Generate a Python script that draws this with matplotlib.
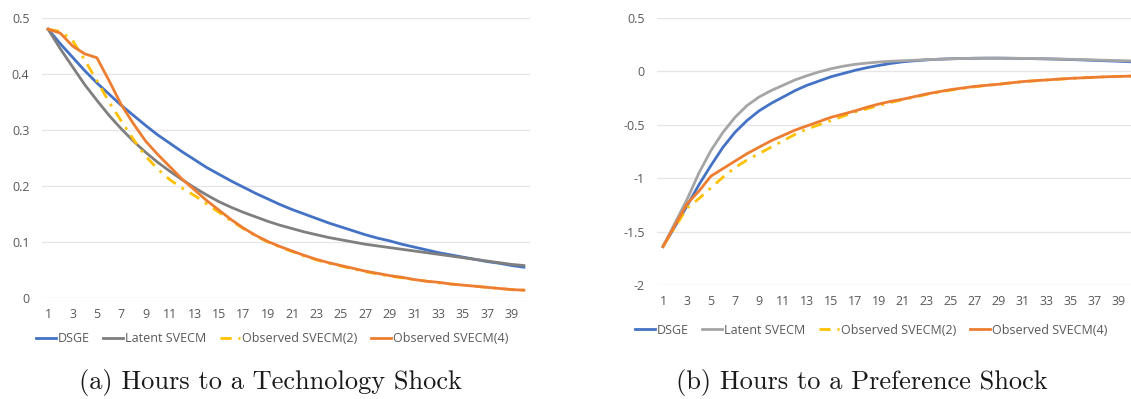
import matplotlib
matplotlib.use("Agg")
import matplotlib.pyplot as plt
from matplotlib.ticker import FuncFormatter, FixedLocator

periods = list(range(1, 41))
series_names = ["DSGE", "Latent SVECM", "Observed SVECM(2)", "Observed SVECM(4)"]

# (a) Hours to a Technology Shock
tech_dsge = [0.480, 0.454, 0.430, 0.406, 0.384, 0.364, 0.344, 0.326, 0.308, 0.291,
             0.276, 0.261, 0.247, 0.233, 0.221, 0.209, 0.198, 0.187, 0.177, 0.167,
             0.158, 0.150, 0.142, 0.134, 0.127, 0.120, 0.113, 0.107, 0.102, 0.096,
             0.091, 0.086, 0.081, 0.077, 0.073, 0.069, 0.065, 0.062, 0.058, 0.055]
tech_latent = [0.480, 0.445, 0.413, 0.381, 0.353, 0.326, 0.302, 0.280, 0.260, 0.242,
               0.226, 0.211, 0.197, 0.184, 0.172, 0.162, 0.153, 0.145, 0.137, 0.130,
               0.124, 0.118, 0.113, 0.108, 0.104, 0.100, 0.096, 0.093, 0.090, 0.087,
               0.084, 0.081, 0.078, 0.075, 0.072, 0.069, 0.066, 0.063, 0.060, 0.058]
tech_obs2 = [0.480, 0.476, 0.460, 0.425, 0.388, 0.350, 0.316, 0.283, 0.253, 0.230,
             0.211, 0.196, 0.183, 0.168, 0.153, 0.138, 0.124, 0.111, 0.100, 0.091,
             0.083, 0.075, 0.068, 0.062, 0.057, 0.052, 0.047, 0.043, 0.039, 0.036,
             0.033, 0.030, 0.027, 0.025, 0.023, 0.021, 0.019, 0.017, 0.015, 0.014]
tech_obs4 = [0.480, 0.473, 0.450, 0.436, 0.429, 0.388, 0.345, 0.311, 0.280, 0.256,
             0.234, 0.212, 0.193, 0.174, 0.157, 0.140, 0.125, 0.112, 0.101, 0.092,
             0.084, 0.076, 0.069, 0.063, 0.058, 0.053, 0.048, 0.044, 0.040, 0.037,
             0.033, 0.030, 0.028, 0.025, 0.023, 0.021, 0.019, 0.017, 0.015, 0.014]

# (b) Hours to a Preference Shock
pref_dsge = [-1.64, -1.45, -1.26, -1.06, -0.88, -0.71, -0.57, -0.46, -0.37, -0.30,
             -0.24, -0.18, -0.13, -0.09, -0.05, -0.02, 0.010, 0.035, 0.056, 0.075,
             0.090, 0.100, 0.108, 0.114, 0.118, 0.121, 0.123, 0.124, 0.124, 0.123,
             0.121, 0.119, 0.117, 0.114, 0.111, 0.107, 0.103, 0.099, 0.095, 0.090]
pref_latent = [-1.64, -1.42, -1.20, -0.95, -0.74, -0.57, -0.43, -0.32, -0.24, -0.18,
               -0.13, -0.08, -0.04, -0.005, 0.025, 0.048, 0.066, 0.078, 0.088, 0.095,
               0.100, 0.105, 0.110, 0.114, 0.118, 0.121, 0.123, 0.124, 0.124, 0.123,
               0.122, 0.120, 0.118, 0.116, 0.113, 0.110, 0.107, 0.104, 0.101, 0.098]
pref_obs2 = [-1.64, -1.46, -1.28, -1.19, -1.09, -0.99, -0.90, -0.83, -0.77, -0.71,
             -0.65, -0.59, -0.54, -0.50, -0.46, -0.42, -0.38, -0.35, -0.32, -0.29,
             -0.265, -0.24, -0.215, -0.195, -0.175, -0.16, -0.145, -0.13, -0.12, -0.107,
             -0.097, -0.088, -0.080, -0.073, -0.066, -0.060, -0.055, -0.050, -0.047, -0.044]
pref_obs4 = [-1.64, -1.44, -1.24, -1.12, -0.98, -0.91, -0.84, -0.77, -0.71, -0.65,
             -0.60, -0.55, -0.51, -0.47, -0.43, -0.40, -0.37, -0.335, -0.305, -0.28,
             -0.26, -0.235, -0.21, -0.19, -0.17, -0.155, -0.14, -0.13, -0.12, -0.107,
             -0.095, -0.087, -0.080, -0.072, -0.065, -0.060, -0.055, -0.050, -0.047, -0.044]

x_tick_labels = [str(v) for v in range(1, 40, 2)]
tech_yticks = [0, 0.1, 0.2, 0.3, 0.4, 0.5]
pref_yticks = [-2, -1.5, -1, -0.5, 0, 0.5]
captions = ["(a) Hours to a Technology Shock", "(b) Hours to a Preference Shock"]

W, H = 1131, 399
fig = plt.figure(figsize=(W / 100, H / 100), dpi=100)

tick_font = "Open Sans"
tick_color = "#595959"
label_size = 9


def px_axes(l, t, r, b):
    return fig.add_axes([l / W, 1 - b / H, (r - l) / W, (b - t) / H])


def style(ax, yticks, ylim):
    ax.set_xlim(0.5, 40.5)
    ax.set_ylim(*ylim)
    ax.xaxis.set_major_locator(FixedLocator(list(range(1, 40, 2))))
    ax.set_xticklabels(x_tick_labels)
    ax.yaxis.set_major_locator(FixedLocator(yticks))
    ax.yaxis.set_major_formatter(FuncFormatter(lambda v, p: f"{v:g}"))
    for s in ax.spines.values():
        s.set_visible(False)
    ax.tick_params(length=0, labelsize=label_size, labelcolor=tick_color)
    ax.tick_params(axis="x", pad=7)
    ax.tick_params(axis="y", pad=9)
    for lab in ax.get_xticklabels() + ax.get_yticklabels():
        lab.set_fontfamily(tick_font)
    ax.grid(axis="y", color="#E6E6E6", linewidth=1.0)
    ax.set_axisbelow(True)
    ax.patch.set_alpha(0)


def draw(ax, dsge, latent, obs2, obs4, gray):
    lw = 2.0
    ax.plot(periods, dsge, color="#4472C4", lw=lw, label=series_names[0])
    ax.plot(periods, latent, color=gray, lw=lw, label=series_names[1])
    ax.plot(periods, obs2, color="#FFC000", lw=lw, linestyle=(0, (4, 2.5, 1, 2.5)), label=series_names[2])
    ax.plot(periods, obs4, color="#ED7D31", lw=lw, label=series_names[3])


axL = px_axes(42, 18, 530, 298)
draw(axL, tech_dsge, tech_latent, tech_obs2, tech_obs4, "#7F7F7F")
style(axL, tech_yticks, (0, 0.5))

axR = px_axes(657, 18, 1137, 285)
draw(axR, pref_dsge, pref_latent, pref_obs2, pref_obs4, "#A5A5A5")
style(axR, pref_yticks, (-2, 0.5))

for ax, xc, yc in [(axL, 272, 339), (axR, 871, 330)]:
    leg = ax.legend(loc="center", bbox_to_anchor=(xc / W, 1 - yc / H),
                    bbox_transform=fig.transFigure, ncol=4, frameon=False,
                    handlelength=1.6, handletextpad=0.15, columnspacing=1.1,
                    prop={"family": tick_font, "size": label_size})
    for t in leg.get_texts():
        t.set_color(tick_color)

fig.text(270 / W, 1 - 382 / H, captions[0], ha="center", va="center",
         family="cmr10", fontsize=19, color="#1a1a1a")
fig.text(862 / W, 1 - 382 / H, captions[1], ha="center", va="center",
         family="cmr10", fontsize=19, color="#1a1a1a")

fig.savefig("out.png", dpi=100)
